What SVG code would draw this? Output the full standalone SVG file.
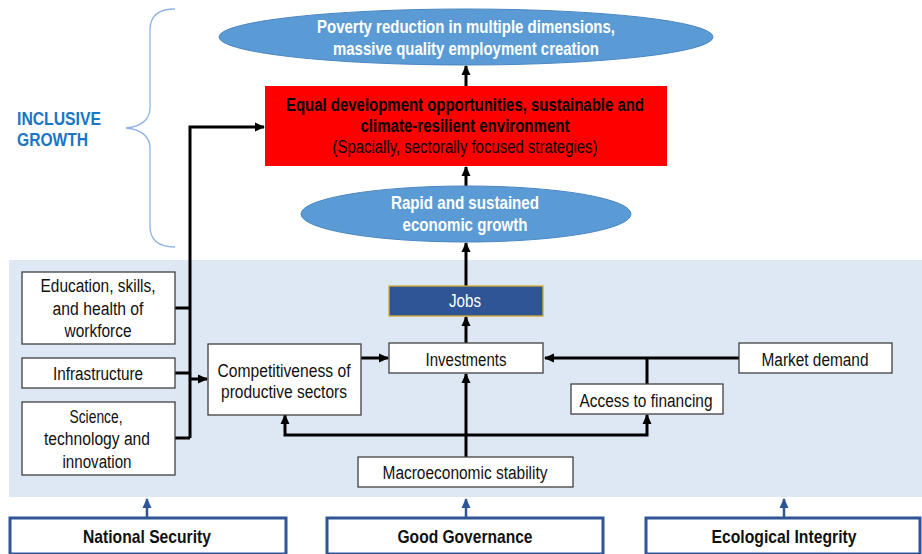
<svg xmlns="http://www.w3.org/2000/svg" width="922" height="554" viewBox="0 0 922 554">
<style>
text{font-family:"Liberation Sans",Arial,sans-serif;text-anchor:middle;}
.b{font-weight:bold;}
.w{fill:#fff;}
.reg{font-size:18px;fill:#111;}
.box{fill:#fff;stroke:#404040;stroke-width:1.3;}
.ell{fill:#5b9bd5;stroke:#4a86c0;stroke-width:1;}
.con{fill:none;stroke:#000;stroke-width:3;}
.blu{fill:none;stroke:#2f5597;stroke-width:2.5;}
.pil{fill:#fff;stroke:#2f5597;stroke-width:3;}
</style>
<defs>
<marker id="ah" markerUnits="userSpaceOnUse" markerWidth="10" markerHeight="10" viewBox="0 0 10 10" refX="9" refY="5" orient="auto">
<path d="M0,0.5 L10,5 L0,9.5 Z" fill="#000"/>
</marker>
<marker id="bh" markerUnits="userSpaceOnUse" markerWidth="10" markerHeight="10" viewBox="0 0 10 10" refX="9" refY="5" orient="auto">
<path d="M0,0.5 L10,5 L0,9.5 Z" fill="#2f5597"/>
</marker>
</defs>
<rect width="922" height="554" fill="#fff"/>
<rect x="9" y="260" width="913" height="237" fill="#dee8f4"/>

<g id="brace">
<path d="M175,9 C160,9 150,14 150,30 L150,108 C150,120 140,127 126,128 C140,129 150,136 150,148 L150,226 C150,242 160,247 175,247" fill="none" stroke="#8fb4e3" stroke-width="1.3"/>
<text x="17" y="125" class="b" style="font-size:18px;fill:#1a75c7;text-anchor:start" textLength="84" lengthAdjust="spacingAndGlyphs">INCLUSIVE</text>
<text x="17" y="146" class="b" style="font-size:18px;fill:#1a75c7;text-anchor:start" textLength="71" lengthAdjust="spacingAndGlyphs">GROWTH</text>
</g>

<g id="connectors">
<path class="con" d="M466,86 L466,66" marker-end="url(#ah)"/>
<path class="con" d="M466,186 L466,167" marker-end="url(#ah)"/>
<path class="con" d="M466,286 L466,243" marker-end="url(#ah)"/>
<path class="con" d="M466,343 L466,317" marker-end="url(#ah)"/>
<path class="con" d="M466,457 L466,374" marker-end="url(#ah)"/>
<path class="con" d="M190,438 L190,127 L264,127" marker-end="url(#ah)"/>
<path class="con" d="M175,308 L190,308 M175,373 L190,373 M175,438 L190,438"/>
<path class="con" d="M190,379 L207,379" marker-end="url(#ah)"/>
<path class="con" d="M361,358 L388,358" marker-end="url(#ah)"/>
<path class="con" d="M739,358 L545,358" marker-end="url(#ah)"/>
<path class="con" d="M647,384 L647,358"/>
<path class="con" d="M466,435 L285,435 L285,415" marker-end="url(#ah)"/>
<path class="con" d="M466,435 L647,435 L647,415" marker-end="url(#ah)"/>
<path class="blu" d="M147,517 L147,499" marker-end="url(#bh)"/>
<path class="blu" d="M466,517 L466,499" marker-end="url(#bh)"/>
<path class="blu" d="M784,517 L784,499" marker-end="url(#bh)"/>
</g>

<g id="poverty">
<ellipse class="ell" cx="466" cy="37" rx="247" ry="28"/>
<text x="466" y="33" class="b w" style="font-size:17.5px" textLength="298" lengthAdjust="spacingAndGlyphs">Poverty reduction in multiple dimensions,</text>
<text x="466" y="55" class="b w" style="font-size:17.5px" textLength="266" lengthAdjust="spacingAndGlyphs">massive quality employment creation</text>
</g>

<g id="equal">
<rect x="265" y="86" width="402" height="80" fill="#ff0000"/>
<text x="465" y="111" class="b" style="font-size:17.5px;fill:#000" textLength="358" lengthAdjust="spacingAndGlyphs">Equal development opportunities, sustainable and</text>
<text x="465" y="132" class="b" style="font-size:17.5px;fill:#000" textLength="209" lengthAdjust="spacingAndGlyphs">climate-resilient environment</text>
<text x="465" y="153" style="font-size:17.5px;fill:#000" textLength="265" lengthAdjust="spacingAndGlyphs">(Spacially, sectorally focused strategies)</text>
</g>

<g id="growth">
<ellipse class="ell" cx="466" cy="214" rx="165" ry="28"/>
<text x="465" y="209" class="b w" style="font-size:17.5px" textLength="148" lengthAdjust="spacingAndGlyphs">Rapid and sustained</text>
<text x="465" y="231" class="b w" style="font-size:17.5px" textLength="125" lengthAdjust="spacingAndGlyphs">economic growth</text>
</g>

<g id="jobs">
<rect x="389" y="286" width="154" height="30" fill="#2f5597" stroke="#d4a92a" stroke-width="1.3"/>
<text x="465" y="307" class="w" style="font-size:18px" textLength="32" lengthAdjust="spacingAndGlyphs">Jobs</text>
</g>

<g id="investments">
<rect class="box" x="389" y="343" width="154" height="30"/>
<text x="466" y="366" class="reg" textLength="81" lengthAdjust="spacingAndGlyphs">Investments</text>
</g>

<g id="competitiveness">
<rect class="box" x="208" y="344" width="153" height="71"/>
<text x="284" y="377" class="reg" textLength="133" lengthAdjust="spacingAndGlyphs">Competitiveness of</text>
<text x="284" y="398" class="reg" textLength="126" lengthAdjust="spacingAndGlyphs">productive sectors</text>
</g>

<g id="market">
<rect class="box" x="739" y="343" width="153" height="30"/>
<text x="815" y="366" class="reg" textLength="107" lengthAdjust="spacingAndGlyphs">Market demand</text>
</g>

<g id="financing">
<rect class="box" x="571" y="384" width="152" height="30"/>
<text x="646" y="407" class="reg" textLength="133" lengthAdjust="spacingAndGlyphs">Access to financing</text>
</g>

<g id="macro">
<rect class="box" x="358" y="457" width="215" height="30"/>
<text x="465" y="479" class="reg" textLength="165" lengthAdjust="spacingAndGlyphs">Macroeconomic stability</text>
</g>

<g id="education">
<rect class="box" x="22" y="272" width="153" height="72"/>
<text x="98" y="292" class="reg" textLength="115" lengthAdjust="spacingAndGlyphs">Education, skills,</text>
<text x="98" y="315" class="reg" textLength="91" lengthAdjust="spacingAndGlyphs">and health of</text>
<text x="98" y="337" class="reg" textLength="67" lengthAdjust="spacingAndGlyphs">workforce</text>
</g>

<g id="infrastructure">
<rect class="box" x="22" y="358" width="153" height="30"/>
<text x="98" y="380" class="reg" textLength="90" lengthAdjust="spacingAndGlyphs">Infrastructure</text>
</g>

<g id="science">
<rect class="box" x="22" y="402" width="153" height="73"/>
<text x="96" y="423" class="reg" textLength="53" lengthAdjust="spacingAndGlyphs">Science,</text>
<text x="97" y="445" class="reg" textLength="106" lengthAdjust="spacingAndGlyphs">technology and</text>
<text x="97" y="468" class="reg" textLength="69" lengthAdjust="spacingAndGlyphs">innovation</text>
</g>

<g id="security">
<rect class="pil" x="10" y="518" width="276" height="36"/>
<text x="147" y="543" class="b" style="font-size:18.5px;fill:#111" textLength="128" lengthAdjust="spacingAndGlyphs">National Security</text>
</g>

<g id="governance">
<rect class="pil" x="327" y="518" width="276" height="36"/>
<text x="465" y="543" class="b" style="font-size:18.5px;fill:#111" textLength="135" lengthAdjust="spacingAndGlyphs">Good Governance</text>
</g>

<g id="ecological">
<rect class="pil" x="646" y="518" width="274" height="36"/>
<text x="784" y="543" class="b" style="font-size:18.5px;fill:#111" textLength="145" lengthAdjust="spacingAndGlyphs">Ecological Integrity</text>
</g>
</svg>
